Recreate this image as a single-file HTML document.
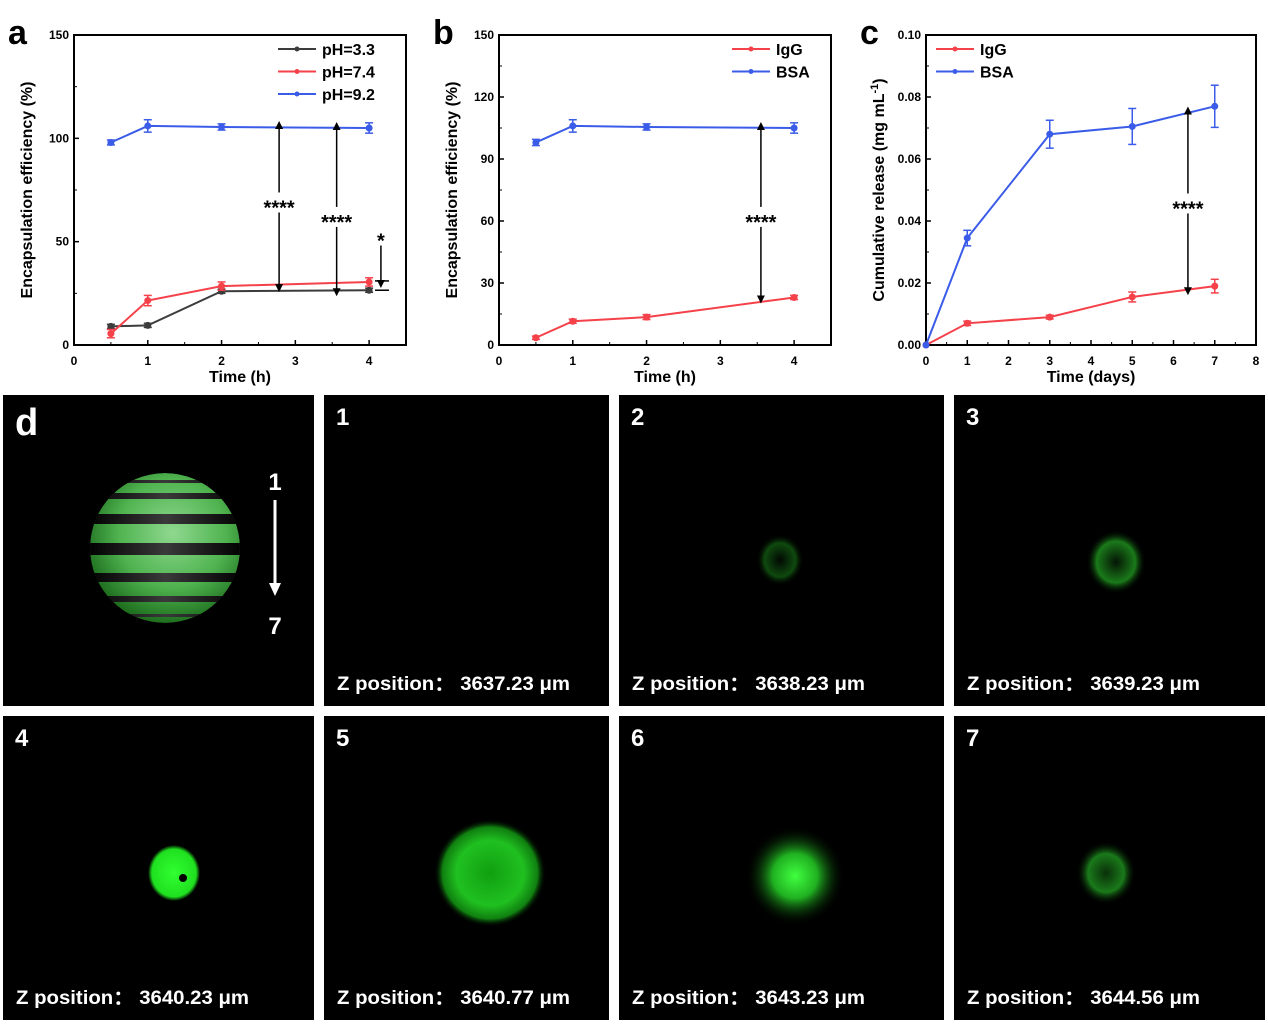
<!DOCTYPE html>
<html><head><meta charset="utf-8"><style>
html,body{margin:0;padding:0;background:#fff;}
svg{display:block;font-family:"Liberation Sans",Arial,sans-serif;}
</style></head><body>
<svg id="root" width="1268" height="1024" viewBox="0 0 1268 1024" xmlns="http://www.w3.org/2000/svg">
<defs>
<radialGradient id="sph" cx="0.55" cy="0.4" r="0.6"><stop offset="0" stop-color="#8fd88f"/><stop offset="0.6" stop-color="#4fb34f"/><stop offset="1" stop-color="#1f6f1f"/></radialGradient>
<linearGradient id="band" x1="0" x2="1"><stop offset="0" stop-color="#000"/><stop offset="0.5" stop-color="#3a3a3a"/><stop offset="1" stop-color="#000"/></linearGradient>
<radialGradient id="g4"><stop offset="0" stop-color="#30ff30"/><stop offset="0.85" stop-color="#20e020"/><stop offset="1" stop-color="#20e020" stop-opacity="0"/></radialGradient>
<radialGradient id="g5"><stop offset="0" stop-color="#10a010"/><stop offset="0.6" stop-color="#20c020"/><stop offset="0.85" stop-color="#108010"/><stop offset="1" stop-color="#000" stop-opacity="0"/></radialGradient>
<radialGradient id="g6"><stop offset="0" stop-color="#40ff40"/><stop offset="0.45" stop-color="#20b020"/><stop offset="1" stop-color="#000" stop-opacity="0"/></radialGradient>
<radialGradient id="g7"><stop offset="0" stop-color="#0a300a"/><stop offset="0.6" stop-color="#1a7a1a"/><stop offset="1" stop-color="#000" stop-opacity="0"/></radialGradient>
<radialGradient id="g3"><stop offset="0" stop-color="#051505"/><stop offset="0.65" stop-color="#1a7a1a"/><stop offset="1" stop-color="#000" stop-opacity="0"/></radialGradient>
<radialGradient id="g2"><stop offset="0" stop-color="#020802"/><stop offset="0.65" stop-color="#0f4a0f"/><stop offset="1" stop-color="#000" stop-opacity="0"/></radialGradient>
<clipPath id="sphclip"><circle cx="165" cy="548" r="75"/></clipPath>
<marker id="ah" markerWidth="8" markerHeight="8" refX="4" refY="4" orient="auto" markerUnits="userSpaceOnUse"><path d="M0,0 L8,4 L0,8 z" fill="#000"/></marker>
</defs>
<g id="charts"></g>
<g id="images"></g>
</svg>
<script>
const NS="http://www.w3.org/2000/svg";
function mk(p,t,a,txt){const e=document.createElementNS(NS,t);for(const k in a)e.setAttribute(k,a[k]);if(txt!==undefined)e.textContent=txt;p.appendChild(e);return e;}

// ---- data panel a ----
const aX=[0.5,1,2,4];
const aPH33=[9,9.5,26,26.5];
const aPH74=[5.5,21.5,28.5,30.5];
const aPH92=[98,106,105.5,105];
const aErr33=[1,1,1,1];
const aErr74=[2,2.5,2,2];
const aErr92=[1.2,3,1.5,2.5];
const aYTicks=[0,50,100,150];
const aXTicks=[0,1,2,3,4];
// ---- data panel b ----
const bX=[0.5,1,2,4];
const bIgG=[3.5,11.5,13.5,23];
const bBSA=[98,106,105.5,105];
const bErrIgG=[0.8,1,1.2,1];
const bErrBSA=[1.5,3,1.5,2.5];
const bYTicks=[0,30,60,90,120,150];
const bXTicks=[0,1,2,3,4];
// ---- data panel c ----
const cX=[0,1,3,5,7];
const cIgG=[0,0.007,0.009,0.0155,0.019];
const cBSA=[0,0.0345,0.068,0.0705,0.077];
const cErrIgG=[0,0.0007,0.0006,0.0016,0.0022];
const cErrBSA=[0,0.0025,0.0045,0.0058,0.0068];
const cYTicks=[0,0.02,0.04,0.06,0.08,0.10];
const cXTicks=[0,1,2,3,4,5,6,7,8];

const RED="#f5414a",BLUE="#3b5ce8",GRAY="#3c3c3c";
const C=document.getElementById('charts');

function panel(o){
  const g=mk(C,'g',{});
  
  
  const X=v=>o.L+(v-o.x0)/(o.x1-o.x0)*(o.R-o.L);
  const Y=v=>o.B-(v-o.y0)/(o.y1-o.y0)*(o.B-o.T);
  const fr=mk(g,'rect',{x:o.L,y:o.T,width:o.R-o.L,height:o.B-o.T,fill:'none',stroke:'#000','stroke-width':2});
  
  o.yt.forEach((v,i)=>{
    mk(g,'line',{x1:o.L,x2:o.L+5,y1:Y(v),y2:Y(v),stroke:'#000','stroke-width':1.5});
    if(i<o.yt.length-1){const m=(v+o.yt[i+1])/2;mk(g,'line',{x1:o.L,x2:o.L+3,y1:Y(m),y2:Y(m),stroke:'#000','stroke-width':1});}
    const t=mk(g,'text',{x:o.L-5,y:Y(v)+4,'text-anchor':'end','font-size':12,'font-weight':'bold'},o.yfmt(v));
    
  });
  o.xt.forEach((v,i)=>{
    mk(g,'line',{x1:X(v),x2:X(v),y1:o.B,y2:o.B-5,stroke:'#000','stroke-width':1.5});
    const m=v+(o.xt[1]-o.xt[0])/2; if(X(m)<o.R) mk(g,'line',{x1:X(m),x2:X(m),y1:o.B,y2:o.B-3,stroke:'#000','stroke-width':1});
    const t=mk(g,'text',{x:X(v),y:o.B+20,'text-anchor':'middle','font-size':12,'font-weight':'bold'},String(v));
    
  });
  const xt=mk(g,'text',{x:(o.L+o.R)/2,y:o.B+37,'text-anchor':'middle','font-size':16,'font-weight':'bold'},o.xlabel);
  
  const yt=mk(g,'text',{transform:`translate(${o.L-42},${(o.T+o.B)/2}) rotate(-90)`,'text-anchor':'middle','font-size':16,'font-weight':'bold'});
  yt.innerHTML=o.ylabel;
  
  const lt=mk(g,'text',{x:o.L-66,y:o.T+9,'font-size':34,'font-weight':'bold'},o.letter);
  
  o.series.forEach(s=>{
    const sg=mk(g,'g',{});
    
    const pts=s.x.map((x,i)=>X(x)+','+Y(s.y[i])).join(' ');
    const pl=mk(sg,'polyline',{points:pts,fill:'none',stroke:s.c,'stroke-width':2});
    
    s.x.forEach((x,i)=>{
      const e=s.e[i];
      if(e>0){
        mk(sg,'line',{x1:X(x),x2:X(x),y1:Y(s.y[i]+e),y2:Y(s.y[i]-e),stroke:s.c,'stroke-width':1.5});
        mk(sg,'line',{x1:X(x)-4,x2:X(x)+4,y1:Y(s.y[i]+e),y2:Y(s.y[i]+e),stroke:s.c,'stroke-width':1.5});
        mk(sg,'line',{x1:X(x)-4,x2:X(x)+4,y1:Y(s.y[i]-e),y2:Y(s.y[i]-e),stroke:s.c,'stroke-width':1.5});
      }
      const p=mk(sg,'circle',{cx:X(x),cy:Y(s.y[i]),r:3.5,fill:s.c});
      
    });
  });
  o.legend.forEach((l,i)=>{
    const lg=mk(g,'g',{});
    
    const y=o.T+14+i*22.5;
    mk(lg,'line',{x1:l.x,x2:l.x+38,y1:y,y2:y,stroke:l.c,'stroke-width':2});
    mk(lg,'circle',{cx:l.x+19,cy:y,r:2.5,fill:l.c});
    mk(lg,'text',{x:l.x+44,y:y+6,'font-size':16,'font-weight':'bold'},l.t);
  });
  o.arrows.forEach(a=>{
    const ag=mk(g,'g',{});
    
    const xa=X(a.x);
    mk(ag,'line',{x1:xa,x2:xa,y1:Y(a.ym)+8,y2:Y(a.y2)+2,stroke:'#000','stroke-width':1.5,'marker-end':'url(#ah)'});
    if(a.y1!==null) mk(ag,'line',{x1:xa,x2:xa,y1:Y(a.ym)-12,y2:Y(a.y1)-2,stroke:'#000','stroke-width':1.5,'marker-end':'url(#ah)'});
    mk(ag,'text',{x:xa,y:Y(a.ym)+10,'text-anchor':'middle','font-size':20,'font-weight':'bold'},a.t);
  });
  return {g,X,Y};
}

const pa=panel({name:'chart-a',letter:'a',L:74,R:406,T:35,B:345,x0:0,x1:4.5,y0:0,y1:150,yt:aYTicks,xt:aXTicks,yfmt:v=>String(v),
  xlabel:'Time (h)',ylabel:'Encapsulation efficiency (%)',
  series:[{key:'ph33',x:aX,y:aPH33,e:aErr33,c:GRAY},{key:'ph74',x:aX,y:aPH74,e:aErr74,c:RED},{key:'ph92',x:aX,y:aPH92,e:aErr92,c:BLUE}],
  legend:[{x:278,c:GRAY,t:'pH=3.3'},{x:278,c:RED,t:'pH=7.4'},{x:278,c:BLUE,t:'pH=9.2'}],
  arrows:[{x:2.78,y1:105.5,y2:28.5,ym:68,t:'****'},{x:3.56,y1:105,y2:26.5,ym:61,t:'****'},{x:4.16,y1:null,y2:30.5,ym:52,t:'*'}]});
mk(pa.g,'line',{x1:pa.X(4.08),x2:pa.X(4.27),y1:pa.Y(31),y2:pa.Y(31),stroke:'#000','stroke-width':1.5});
mk(pa.g,'line',{x1:pa.X(4.08),x2:pa.X(4.27),y1:pa.Y(26.5),y2:pa.Y(26.5),stroke:'#000','stroke-width':1.5});

panel({name:'chart-b',letter:'b',L:499,R:831,T:35,B:345,x0:0,x1:4.5,y0:0,y1:150,yt:bYTicks,xt:bXTicks,yfmt:v=>String(v),
  xlabel:'Time (h)',ylabel:'Encapsulation efficiency (%)',
  series:[{key:'igg',x:bX,y:bIgG,e:bErrIgG,c:RED},{key:'bsa',x:bX,y:bBSA,e:bErrBSA,c:BLUE}],
  legend:[{x:732,c:RED,t:'IgG'},{x:732,c:BLUE,t:'BSA'}],
  arrows:[{x:3.55,y1:105,y2:23,ym:61,t:'****'}]});

panel({name:'chart-c',letter:'c',L:926,R:1256,T:35,B:345,x0:0,x1:8,y0:0,y1:0.10,yt:cYTicks,xt:cXTicks,yfmt:v=>v.toFixed(2),
  xlabel:'Time (days)',ylabel:'Cumulative release (mg mL<tspan dy="-6" font-size="11">-1</tspan><tspan dy="6">)</tspan>',
  series:[{key:'igg',x:cX,y:cIgG,e:cErrIgG,c:RED},{key:'bsa',x:cX,y:cBSA,e:cErrBSA,c:BLUE}],
  legend:[{x:936,c:RED,t:'IgG'},{x:936,c:BLUE,t:'BSA'}],
  arrows:[{x:6.35,y1:0.075,y2:0.018,ym:0.045,t:'****'}]});
</script>
<script>
const IM=document.getElementById('images');
const tiles=[
 {x:3,y:395,w:311,h:311,n:'d',z:null},
 {x:324,y:395,w:285,h:311,n:'1',z:'3637.23'},
 {x:619,y:395,w:325,h:311,n:'2',z:'3638.23'},
 {x:954,y:395,w:311,h:311,n:'3',z:'3639.23'},
 {x:3,y:716,w:311,h:304,n:'4',z:'3640.23'},
 {x:324,y:716,w:285,h:304,n:'5',z:'3640.77'},
 {x:619,y:716,w:325,h:304,n:'6',z:'3643.23'},
 {x:954,y:716,w:311,h:304,n:'7',z:'3644.56'}];
const blobs={'2':{cx:780,cy:560,rx:24,ry:26,f:'url(#g2)'},'3':{cx:1116,cy:562,rx:30,ry:32,f:'url(#g3)'},
 '4':{cx:174,cy:873,rx:26,ry:28,f:'url(#g4)'},'5':{cx:490,cy:873,rx:56,ry:54,f:'url(#g5)'},
 '6':{cx:795,cy:876,rx:50,ry:50,f:'url(#g6)'},'7':{cx:1106,cy:873,rx:30,ry:32,f:'url(#g7)'}};
tiles.forEach(t=>{
  const g=mk(IM,'g',{});
  
  
  mk(g,'rect',{x:t.x,y:t.y,width:t.w,height:t.h,fill:'#000'});
  const b=blobs[t.n]; if(b) mk(g,'ellipse',{cx:b.cx,cy:b.cy,rx:b.rx,ry:b.ry,fill:b.f});
  if(t.n==='4'){mk(g,'circle',{cx:183,cy:878,r:4,fill:'#000'});}
  mk(g,'text',{x:t.x+12,y:t.y+(t.n==='d'?40:30),fill:'#fff','font-size':t.n==='d'?38:24,'font-weight':'bold'},t.n);
  if(t.z){const zt=mk(g,'text',{x:t.x+13,y:t.y+t.h-16,fill:'#fff','font-size':19,'font-weight':'bold','textLength':233,'lengthAdjust':'spacingAndGlyphs'},'Z position\uFF1A 3'+t.z.slice(1)+' \u03BCm');
    }
});
const sp=mk(IM,'g',{'clip-path':'url(#sphclip)'});

mk(sp,'circle',{cx:165,cy:548,r:75,fill:'url(#sph)'});
[480,493,514,543,573,596,614].forEach((y,i)=>mk(sp,'rect',{x:88,y:y,width:155,height:[3,6,10,12,9,6,3][i],fill:'url(#band)'}));
mk(IM,'line',{x1:275,x2:275,y1:500,y2:585,stroke:'#fff','stroke-width':3});
mk(IM,'path',{d:'M269,583 L281,583 L275,596 z',fill:'#fff'});
mk(IM,'text',{x:275,y:490,fill:'#fff','font-size':24,'font-weight':'bold','text-anchor':'middle'},'1');
mk(IM,'text',{x:275,y:634,fill:'#fff','font-size':24,'font-weight':'bold','text-anchor':'middle'},'7');
</script>
</body></html>
